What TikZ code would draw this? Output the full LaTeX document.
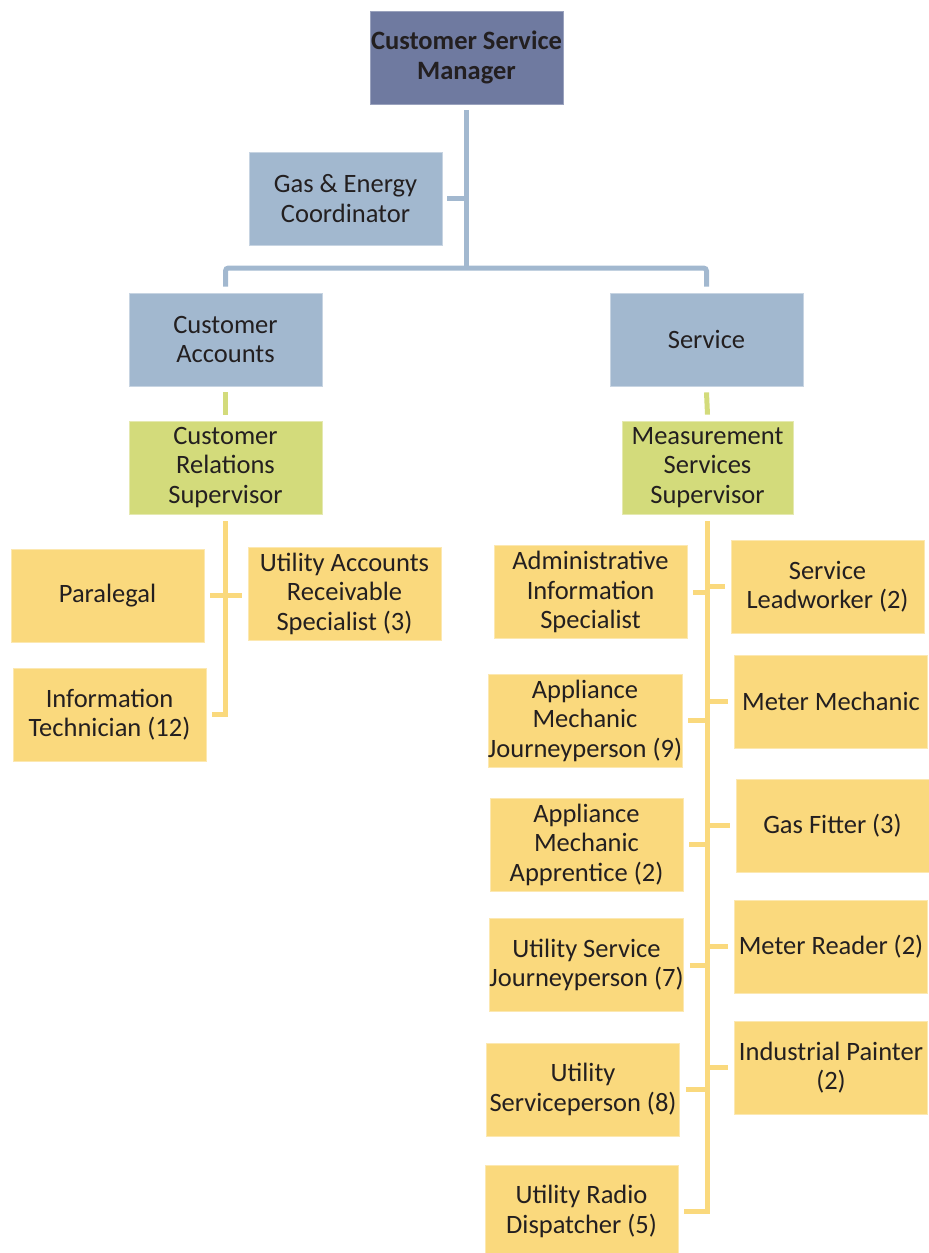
\documentclass[tikz,border=0pt]{standalone}
\usepackage{fontspec}
\setmainfont{Carlito}
\definecolor{mgr}{HTML}{6F7AA0}
\definecolor{bluebox}{HTML}{A2B8CF}
\definecolor{greenbox}{HTML}{D3DB7B}
\definecolor{yellowbox}{HTML}{FAD97D}
\definecolor{txt}{HTML}{231F20}
\tikzset{
  box/.style={rectangle, minimum width=193pt, minimum height=93pt, inner xsep=0pt, inner ysep=0pt,
    align=center, text=txt, font=\fontsize{26.5}{29.5}\selectfont, line width=0.8pt},
  mgrbox/.style={box, fill=mgr, draw=mgr!70!white, font=\fontsize{26.5}{29.5}\selectfont\bfseries},
  bbox/.style={box, fill=bluebox, draw=bluebox!60!white},
  gbox/.style={box, fill=greenbox, draw=greenbox!60!white},
  ybox/.style={box, fill=yellowbox, draw=yellowbox!60!white},
  bline/.style={draw=bluebox, line width=5pt, rounded corners=3pt},
  gline/.style={draw=greenbox, line width=5pt},
  yline/.style={draw=yellowbox, line width=5pt},
}
\begin{document}
\begin{tikzpicture}[x=1pt,y=-1pt]
\useasboundingbox (0,0) rectangle (929,1253);
% nodes
\node[mgrbox] (csm) at (466.5,57.5) {Customer Service\\Manager};
\node[bbox] (gas) at (345.5,198.5) {Gas \& Energy\\Coordinator};
\node[bbox] (ca) at (225.5,339.5) {Customer\\Accounts};
\node[bbox] (svc) at (706.5,339.5) {Service};
\node[gbox] (crs) at (225.5,467.5) {Customer\\Relations\\Supervisor};
\node[gbox, minimum width=171pt] (mss) at (707.5,467.5) {Measurement\\Services\\Supervisor};
\node[ybox] (para) at (107.5,595.5) {Paralegal};
\node[ybox] (uars) at (344.5,593.5) {Utility Accounts\\Receivable\\Specialist (3)};
\node[ybox] (it) at (109.5,714.5) {Information\\Technician (12)};
\node[ybox] (adm) at (590.5,592) {Administrative\\Information\\Specialist};
\node[ybox] (sl) at (827.5,586.5) {Service\\Leadworker (2)};
\node[ybox] (amj) at (585,720.5) {Appliance\\Mechanic\\Journeyperson (9)};
\node[ybox] (mm) at (831,701.5) {Meter Mechanic};
\node[ybox] (ama) at (586.5,844.5) {Appliance\\Mechanic\\Apprentice (2)};
\node[ybox] (gf) at (832.5,825.5) {Gas Fitter (3)};
\node[ybox] (usj) at (586.5,965) {Utility Service\\Journeyperson (7)};
\node[ybox] (mr) at (831,946.5) {Meter Reader (2)};
\node[ybox] (usp) at (583,1089.5) {Utility\\Serviceperson (8)};
\node[ybox] (ip) at (831,1067.5) {Industrial Painter\\(2)};
\node[ybox] (urd) at (581.5,1211.5) {Utility Radio\\Dispatcher (5)};
% blue connectors
\coordinate (jb) at (466.5,268);
\draw[bline] ([yshift=-6pt]csm.south) -- (jb);
\draw[bline] ([yshift=6pt]ca.north) |- (jb) -| ([yshift=6pt]svc.north);
\draw[bline] ([xshift=5pt]gas.east) -- (gas.east -| csm.south);
% green connectors
\draw[gline] ([yshift=-6pt]ca.south) -- ([yshift=6pt]crs.north);
\draw[gline] ([yshift=-6pt]svc.south) -- ([yshift=6pt]mss.north);
% yellow connectors, left
\draw[yline] ([yshift=-7pt]crs.south) |- ([xshift=6pt]it.east);
\draw[yline] ([xshift=6pt]para.east) -- ([xshift=-6pt]uars.west |- para.east);
% yellow connectors, right
\draw[yline] ([yshift=-7pt]mss.south) |- ([xshift=6pt]urd.east);
\foreach \n in {adm,amj,ama,usj,usp}{
  \draw[yline] ([xshift=6pt]\n.east) -- (\n.east -| mss.south);
}
\foreach \n in {sl,mm,gf,mr,ip}{
  \draw[yline] (\n.west -| mss.south) -- ([xshift=-6pt]\n.west);
}
\end{tikzpicture}
\end{document}
